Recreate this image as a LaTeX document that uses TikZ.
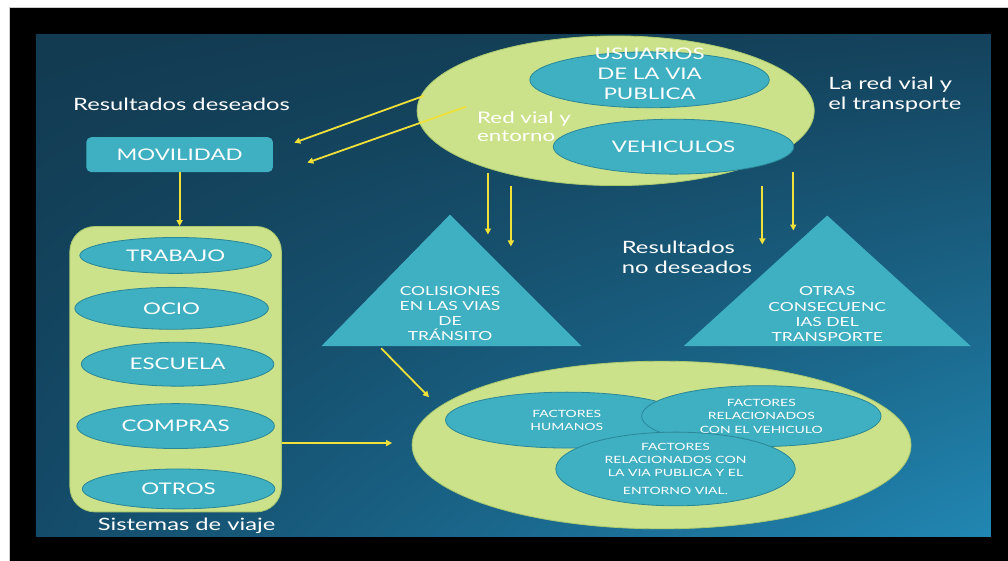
\documentclass[tikz,border=0pt]{standalone}
\usepackage{fontspec}
\setmainfont{Lato}[FakeStretch=1.4]
\usetikzlibrary{shapes.geometric, arrows.meta, positioning, shadings}

\definecolor{verde}{HTML}{CBE28B}
\definecolor{verdeB}{HTML}{ABC96E}
\definecolor{turq}{HTML}{3FAFC2}
\definecolor{turqB}{HTML}{2A8796}
\definecolor{flecha}{HTML}{F0E03A}
\definecolor{fondoA}{HTML}{123A50}
\definecolor{fondoB}{HTML}{14425C}
\definecolor{fondoC}{HTML}{144B69}
\definecolor{fondoD}{HTML}{2187B3}

\begin{document}
\begin{tikzpicture}[x=1pt, y=-1pt,
    elip/.style={ellipse, fill=turq, draw=turqB, line width=0.8pt, inner sep=0pt, text=white, align=center},
    campo/.style={ellipse, fill=verde, draw=verdeB, line width=0.8pt, inner sep=0pt},
    tri/.style={fill=turq},
    txt/.style={text=white, inner sep=0pt},
    flechita/.style={draw=flecha, line width=1.8pt, -{Triangle[length=6pt,width=6pt]}}]

        % Fondo y diapositiva
        \fill[white] (0,0) rectangle (1008,560);
        \fill[black, draw=gray!40] (9,7) rectangle (1010,562);
        \shade[upper left=fondoA, upper right=fondoB, lower left=fondoC, lower right=fondoD] (36,35) rectangle (993,538);

        % La red vial y el transporte
        \node[campo, minimum width=398, minimum height=150] (red) at (617,111) {};
        \node[elip, minimum width=240, minimum height=56] (usu) at (651,80) {};
        \node[txt, align=center, font=\fontsize{16}{20}\selectfont] (usuT) at (651,74) {USUARIOS\\DE LA VIA\\PUBLICA};
        \node[elip, minimum width=241, minimum height=55, font=\fontsize{16}{20}\selectfont] (veh) at (675,147) {VEHICULOS};
        \node[txt, align=left, anchor=west, font=\fontsize{16}{18}\selectfont] (entorno) at (478,127) {Red vial y\\entorno};
        \node[txt, align=left, anchor=west, font=\fontsize{17}{20}\selectfont] (redT) at (830,95) {La red vial y\\el transporte};

        % Resultados deseados
        \node[txt, font=\fontsize{17}{20}\selectfont] (desT) at (182,105) {Resultados deseados};
        \node[fill=turq, rounded corners=5pt, minimum width=187, minimum height=35, inner sep=0pt, text=white, font=\fontsize{16}{18}\selectfont] (mov) at (180,155) {MOVILIDAD};

        % Sistemas de viaje
        \node[fill=verde, draw=verdeB, line width=0.8pt, rounded corners=25pt, minimum width=212, minimum height=286, inner sep=0pt] (sis) at (176,370) {};
        \node[elip, minimum width=192, minimum height=36, font=\fontsize{16}{18}\selectfont] (trabajo) at (176,256) {TRABAJO};
        \node[elip, minimum width=194, minimum height=42, font=\fontsize{16}{18}\selectfont] (ocio) at (172,309) {OCIO};
        \node[elip, minimum width=193, minimum height=44, font=\fontsize{16}{18}\selectfont] (escuela) at (178,365) {ESCUELA};
        \node[elip, minimum width=198, minimum height=45, font=\fontsize{16}{18}\selectfont] (compras) at (176,427) {COMPRAS};
        \node[elip, minimum width=193, minimum height=40, font=\fontsize{16}{18}\selectfont] (otros) at (179,490) {OTROS};
        \node[txt, font=\fontsize{17}{20}\selectfont] (sisT) at (187,527) {Sistemas de viaje};

        % Resultados no deseados
        \coordinate (t1a) at (322,347);
        \coordinate (t1b) at (451,215);
        \coordinate (t1c) at (583,347);
        \fill[tri] (t1a) -- (t1b) -- (t1c) -- cycle;
        \node[txt, align=center, font=\fontsize{12.5}{15}\selectfont] (col) at (451,314) {COLISIONES\\EN LAS VIAS\\DE\\TRÁNSITO};
        \coordinate (t2a) at (685,347);
        \coordinate (t2b) at (829,216);
        \coordinate (t2c) at (973,347);
        \fill[tri] (t2a) -- (t2b) -- (t2c) -- cycle;
        \node[txt, align=center, font=\fontsize{12.5}{15.3}\selectfont] (otras) at (829,315) {OTRAS\\CONSECUENC\\IAS DEL\\TRANSPORTE};
        \node[txt, align=left, anchor=west, font=\fontsize{17}{20}\selectfont] (nodesT) at (623,258) {Resultados\\no deseados};

        % Factores
        \node[campo, minimum width=500, minimum height=168] (fac) at (663,446) {};
        \node[elip, minimum width=243, minimum height=56, font=\fontsize{10}{13}\selectfont] (hum) at (568,421) {FACTORES\\HUMANOS};
        \node[elip, minimum width=240, minimum height=61, font=\fontsize{10}{13.5}\selectfont] (fveh) at (763,417) {FACTORES\\RELACIONADOS\\CON EL VEHICULO};
        \node[elip, minimum width=240, minimum height=54, font=\fontsize{10}{13.3}\selectfont] (via) at (677,470) {FACTORES\\RELACIONADOS CON\\LA VIA PUBLICA Y EL\\[5pt]ENTORNO VIAL.};

        % Flechas
        \coordinate (a1) at (425,96);
        \coordinate (a2) at (467,107);
        \coordinate (m1) at (295,143);
        \coordinate (m2) at (308,163);
        \draw[flechita] (a1) -- (m1);
        \draw[flechita] (a2) -- (m2);
        \draw[flechita] (mov.south) -- (mov.south |- sis.north);
        \coordinate (b1) at (489,173);
        \coordinate (b2) at (512,186);
        \coordinate (c1) at (489,235);
        \coordinate (c2) at (512,247);
        \draw[flechita] (b1) -- (c1);
        \draw[flechita] (b2) -- (c2);
        \coordinate (d1) at (764,186);
        \coordinate (d2) at (795,172);
        \coordinate (e1) at (764,245);
        \coordinate (e2) at (795,231);
        \draw[flechita] (d1) -- (e1);
        \draw[flechita] (d2) -- (e2);
        \coordinate (f1) at (382,349);
        \coordinate (f2) at (430,398);
        \draw[flechita] (f1) -- (f2);
        \coordinate (g1) at (393,444);
        \draw[flechita] (sis.east |- g1) -- (g1);

\end{tikzpicture}
\end{document}
